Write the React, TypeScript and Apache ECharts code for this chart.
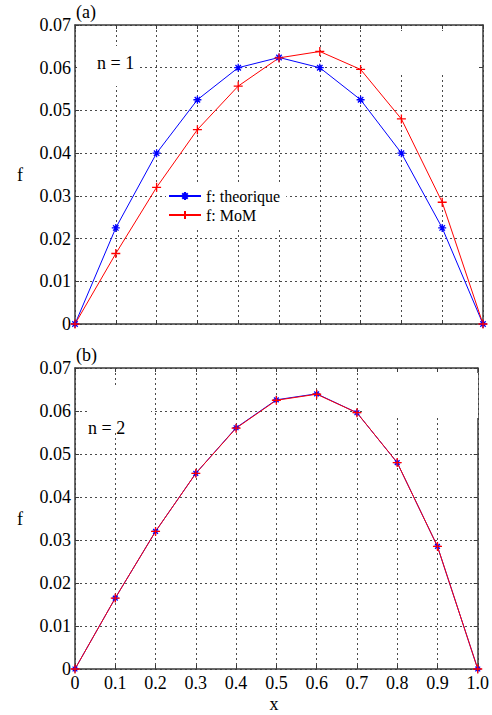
import React, { useEffect, useRef } from "react";
import * as echarts from "echarts";

const xValues = [0, 0.1, 0.2, 0.3, 0.4, 0.5, 0.6, 0.7, 0.8, 0.9, 1.0];
const xTickLabels = ["0", "0.1", "0.2", "0.3", "0.4", "0.5", "0.6", "0.7", "0.8", "0.9", "1.0"];
const yTickLabels = ["0", "0.01", "0.02", "0.03", "0.04", "0.05", "0.06", "0.07"];
const legendNames = ["f: theorique", "f: MoM"];

// panel (a), n = 1
const theoA = [0, 0.0225, 0.04, 0.0525, 0.06, 0.0624, 0.06, 0.0525, 0.04, 0.0225, 0];
const momA = [0, 0.0165, 0.032, 0.0455, 0.0557, 0.0623, 0.0638, 0.0596, 0.048, 0.0285, 0];
// panel (b), n = 2
const theoB = [0, 0.0165, 0.032, 0.0455, 0.0561, 0.0626, 0.064, 0.0596, 0.048, 0.0285, 0];
const momB = [0, 0.0165, 0.032, 0.0455, 0.056, 0.0625, 0.0639, 0.0596, 0.048, 0.0285, 0];

const FONT = "Liberation Serif";
const STAR = "path://M5,0L5,10M0,5L10,5M1.6,1.6L8.4,8.4M8.4,1.6L1.6,8.4";
const PLUS = "path://M5,0L5,10M0,5L10,5";
const BLUE = "#0000ff";
const RED = "#ff0000";
const FRAME = "#3a3a3a";

function xAxisMain(gridIndex: number, showLabels: boolean) {
  return {
    type: "value",
    gridIndex,
    position: "bottom",
    min: 0,
    max: 1,
    interval: 0.1,
    axisLine: { show: true, onZero: false, lineStyle: { color: FRAME, width: 1.5 } },
    axisTick: { show: true, inside: true, length: 4, lineStyle: { color: FRAME } },
    axisLabel: {
      show: showLabels,
      margin: 5,
      fontFamily: FONT,
      fontSize: 18,
      color: "#000",
      formatter: (v: number) => xTickLabels[Math.round(v * 10)] ?? "",
    },
    splitLine: { show: true, lineStyle: { color: "#4a4a4a", type: [2, 3], width: 1 } },
  };
}
function xAxisTop(gridIndex: number) {
  return {
    type: "value",
    gridIndex,
    position: "top",
    min: 0,
    max: 1,
    interval: 0.1,
    axisLine: { show: true, onZero: false, lineStyle: { color: FRAME, width: 1.5 } },
    axisTick: { show: true, inside: true, length: 4, lineStyle: { color: FRAME } },
    axisLabel: { show: false },
    splitLine: { show: false },
  };
}
function yAxisMain(gridIndex: number) {
  return {
    type: "value",
    gridIndex,
    position: "left",
    min: 0,
    max: 0.07,
    interval: 0.01,
    axisLine: { show: true, onZero: false, lineStyle: { color: FRAME, width: 1.5 } },
    axisTick: { show: true, inside: true, length: 4, lineStyle: { color: FRAME } },
    axisLabel: {
      show: true,
      margin: 4,
      fontFamily: FONT,
      fontSize: 18,
      color: "#000",
      formatter: (v: number) => yTickLabels[Math.round(v * 100)] ?? "",
    },
    splitLine: { show: true, lineStyle: { color: "#4a4a4a", type: [2, 3], width: 1 } },
  };
}
function yAxisRight(gridIndex: number) {
  return {
    type: "value",
    gridIndex,
    position: "right",
    min: 0,
    max: 0.07,
    interval: 0.01,
    axisLine: { show: true, onZero: false, lineStyle: { color: FRAME, width: 1.5 } },
    axisTick: { show: true, inside: true, length: 4, lineStyle: { color: FRAME } },
    axisLabel: { show: false },
    splitLine: { show: false },
  };
}

function lineSeries(
  name: string,
  values: number[],
  xAxisIndex: number,
  yAxisIndex: number,
  color: string,
  symbol: string,
  symbolSize: number
) {
  return {
    type: "line",
    name,
    xAxisIndex,
    yAxisIndex,
    data: xValues.map((x, i) => [x, values[i]]),
    symbol,
    symbolSize,
    showSymbol: true,
    lineStyle: { color, width: 1 },
    itemStyle: { color, borderColor: color, borderWidth: 1.3 },
    emphasis: { disabled: true },
  };
}

function whiteRect(x: number, y: number, width: number, height: number) {
  return {
    type: "rect",
    z: 1,
    shape: { x, y, width, height },
    style: { fill: "#ffffff" },
    silent: true,
  };
}
function label(text: string, x: number, y: number, align: string = "left") {
  return {
    type: "text",
    z: 10,
    x,
    y,
    style: {
      text,
      fill: "#000",
      fontFamily: FONT,
      fontSize: 18,
      align,
      verticalAlign: "middle",
    },
    silent: true,
  };
}

export default function App() {
  const ref = useRef<HTMLDivElement>(null);
  useEffect(() => {
    if (!ref.current) return;
    const chart = echarts.init(ref.current, undefined, { renderer: "svg" });
    chart.setOption({
      animation: false,
      backgroundColor: "#ffffff",
      textStyle: { fontFamily: FONT },
      grid: [
        { left: 75, top: 25, width: 408, height: 299, containLabel: false },
        { left: 75, top: 368, width: 408, height: 301, containLabel: false },
      ],
      xAxis: [xAxisMain(0, false), xAxisTop(0), xAxisMain(1, true), xAxisTop(1)],
      yAxis: [yAxisMain(0), yAxisRight(0), yAxisMain(1), yAxisRight(1)],
      legend: {
        data: legendNames,
        orient: "vertical",
        left: 166,
        top: 185,
        padding: [3, 6, 6, 2],
        itemGap: 3,
        itemWidth: 32,
        itemHeight: 10,
        backgroundColor: "#ffffff",
        textStyle: { fontFamily: FONT, fontSize: 16, color: "#000", lineHeight: 16 },
        selectedMode: false,
      },
      graphic: [
        whiteRect(77, 46, 62, 40),
        whiteRect(362, 31, 116, 41),
        whiteRect(89, 386, 62, 45),
        whiteRect(362, 373, 116, 45),
        label("(a)", 76, 12),
        label("(b)", 76, 355),
        label("n = 1", 97, 63),
        label("n = 2", 88, 428),
        label("f", 20, 175, "center"),
        label("f", 20, 519, "center"),
        label("x", 274, 704, "center"),
      ],
      series: [
        lineSeries(legendNames[0], theoA, 0, 0, BLUE, STAR, 8),
        lineSeries(legendNames[1], momA, 0, 0, RED, PLUS, 9),
        lineSeries(legendNames[0], theoB, 2, 2, BLUE, STAR, 7),
        lineSeries(legendNames[1], momB, 2, 2, RED, PLUS, 9),
      ],
    });
    return () => chart.dispose();
  }, []);
  return (
    <div
      ref={ref}
      style={{ position: "absolute", left: 0, top: 0, width: 492, height: 715, background: "#fff" }}
    />
  );
}
